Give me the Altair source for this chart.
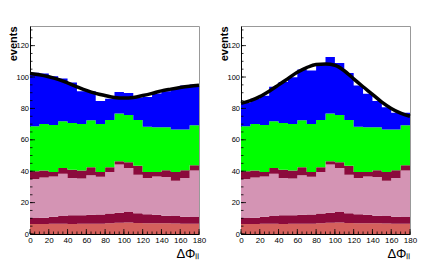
import altair as alt
import pandas as pd

# ---- data ----
bin_lo = list(range(0, 180, 10))
bin_edges = list(range(0, 181, 10))

salmon_top = [6.3, 6.4, 6.5, 6.5, 6.4, 6.5, 6.6, 6.6, 6.8, 7.2, 7.4, 7.0, 6.8, 6.9, 6.8, 6.7, 6.6, 6.6]
maroon_low_top = [10.2, 10.4, 11.0, 11.5, 12.0, 12.0, 12.3, 12.5, 13.0, 13.6, 14.0, 13.2, 12.6, 12.2, 11.6, 11.4, 11.0, 10.8]
pink_top = [35.0, 36.0, 36.7, 38.4, 35.7, 35.3, 37.4, 36.5, 39.5, 44.2, 42.0, 37.8, 35.7, 36.7, 36.3, 34.0, 35.7, 40.4]
maroon_band_top = [40.0, 40.4, 39.5, 42.0, 41.0, 40.4, 42.5, 39.5, 42.5, 46.3, 45.7, 43.5, 39.5, 39.5, 40.6, 39.5, 40.6, 43.8]
green_top = [68.6, 70.0, 69.5, 71.8, 70.7, 70.0, 72.4, 70.0, 72.6, 76.7, 75.8, 72.6, 68.4, 68.0, 68.0, 66.5, 66.5, 69.2]

blue_top_left = [102.7, 102.3, 100.5, 99.1, 96.5, 91.0, 91.0, 84.7, 86.2, 90.4, 89.8, 87.0, 87.2, 89.5, 91.0, 92.8, 94.6, 95.3]
blue_top_right = [83.6, 86.2, 88.0, 93.8, 96.8, 99.9, 104.8, 104.2, 108.4, 112.7, 108.9, 102.5, 94.6, 89.3, 84.7, 80.8, 77.2, 77.2]

curve_x = list(range(0, 181, 10))
curve_left = [102.3, 101.5, 100.2, 98.5, 96.2, 93.8, 91.5, 89.6, 88.2, 87.0, 86.6, 87.0, 88.2, 89.6, 91.2, 92.3, 93.3, 94.1, 94.7]
curve_right = [83.2, 85.0, 87.5, 91.0, 95.0, 99.0, 103.0, 106.0, 108.0, 108.3, 107.5, 104.0, 98.8, 93.8, 89.0, 84.0, 80.0, 77.0, 75.0]

layer_names = ["salmon", "maroon_low", "pink", "maroon_band", "green", "blue"]
layer_colors = ["#d4605c", "#8b0a3c", "#d494b4", "#8b0a3c", "#00ff00", "#0000ff"]

x_major = list(range(0, 181, 20))
x_minor = list(range(0, 181, 5))
y_major = list(range(0, 121, 20))
y_minor = list(range(0, 131, 5))

W, H = 169, 208
FONT = "Liberation Sans, Arial"

X_AXIS = alt.Axis(
    values=x_major, format="d", ticks=False, grid=False,
    labelOverlap=False, labelFlush=False,
    domainColor="black", domainWidth=1,
    labelFont=FONT, labelFontSize=8, labelColor="black", labelPadding=2,
    title="ΔΦₗₗ", titleAnchor="end", titleAlign="right",
    titleFontSize=13, titleFontWeight="normal", titleFont="Liberation Sans",
    titleColor="black", titlePadding=3)
Y_AXIS = alt.Axis(
    values=y_major, format="d", ticks=False, grid=False,
    labelOverlap=False, labelFlush=False,
    domainColor="black", domainWidth=1,
    labelFont=FONT, labelFontSize=7.5, labelColor="black", labelPadding=1.5,
    title="events", titleAngle=270, titleX=-14, titleY=0,
    titleAlign="right", titleBaseline="alphabetic",
    titleFontSize=11, titleFontWeight="bold", titleFont="Liberation Sans",
    titleColor="black")


def panel(blue_top, curve_y):
    rows = []
    prev = [0.0] * len(bin_lo)
    tops = [salmon_top, maroon_low_top, pink_top, maroon_band_top, green_top, blue_top]
    for name, top in zip(layer_names, tops):
        for i, edge in enumerate(bin_edges):
            j = min(i, len(bin_lo) - 1)  # last edge repeats the last bin (step-after)
            rows.append(dict(layer=name, x=edge, y=prev[j], y2=top[j]))
        prev = top
    df = pd.DataFrame(rows)

    xs = alt.Scale(domain=[0, 180], nice=False, zero=False)
    ys = alt.Scale(domain=[0, 132.5], nice=False)
    cscale = alt.Scale(domain=layer_names, range=layer_colors)

    areas = alt.Chart(df).mark_area(interpolate="step-after", opacity=1).encode(
        x=alt.X("x:Q", scale=xs, axis=X_AXIS),
        y=alt.Y("y:Q", scale=ys, axis=Y_AXIS),
        y2="y2:Q",
        color=alt.Color("layer:N", scale=cscale, legend=None),
    )

    cdf = pd.DataFrame({"x": curve_x, "y": curve_y})
    curve = alt.Chart(cdf).mark_line(color="black", strokeWidth=3.5,
                                     interpolate="monotone").encode(
        x=alt.X("x:Q", scale=xs, axis=X_AXIS), y=alt.Y("y:Q", scale=ys, axis=Y_AXIS))

    xmin = alt.Chart(pd.DataFrame({"t": x_minor})).mark_rule(color="black", strokeWidth=0.8).encode(
        x=alt.X("t:Q", scale=xs, axis=X_AXIS), y=alt.value(H), y2=alt.value(H - 2.5))
    xmaj = alt.Chart(pd.DataFrame({"t": x_major})).mark_rule(color="black", strokeWidth=0.8).encode(
        x=alt.X("t:Q", scale=xs, axis=X_AXIS), y=alt.value(H), y2=alt.value(H - 5))
    ymin = alt.Chart(pd.DataFrame({"t": y_minor})).mark_rule(color="black", strokeWidth=0.8).encode(
        y=alt.Y("t:Q", scale=ys, axis=Y_AXIS), x=alt.value(0), x2=alt.value(2.5))
    ymaj = alt.Chart(pd.DataFrame({"t": y_major})).mark_rule(color="black", strokeWidth=0.8).encode(
        y=alt.Y("t:Q", scale=ys, axis=Y_AXIS), x=alt.value(0), x2=alt.value(5))

    return alt.layer(areas, curve, xmin, xmaj, ymin, ymaj).properties(width=W, height=H)


chart = alt.hconcat(panel(blue_top_left, curve_left), panel(blue_top_right, curve_right),
                    spacing=10).properties(
    padding={"left": -2, "top": 17, "right": 0, "bottom": 0},
    background="white",
).configure_view(stroke="#999999", strokeWidth=1)

chart.save("out.html", embed_options={"renderer": "svg", "actions": False})
